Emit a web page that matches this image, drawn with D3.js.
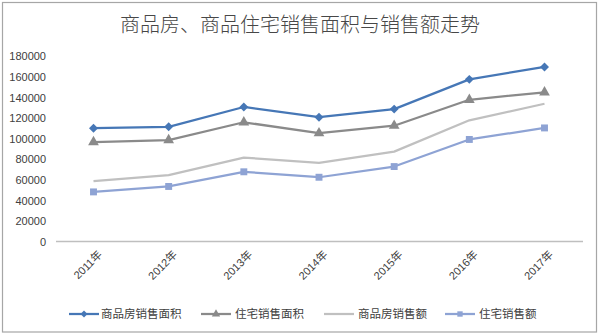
<!DOCTYPE html>
<html><head><meta charset="utf-8">
<script src="https://cdn.jsdelivr.net/npm/d3@7"></script>
<style>
html,body{margin:0;padding:0;background:#fff;}
text{font-family:"Noto Sans CJK SC","Liberation Sans",sans-serif;}
</style></head>
<body><svg id="c" width="600" height="335"></svg>
<script>
const years = ["2011年","2012年","2013年","2014年","2015年","2016年","2017年"];
const seriesNames = ["商品房销售面积","住宅销售面积","商品房销售额","住宅销售额"];
const areaCommercial = [109946,111304,130551,120649,128495,157349,169408];
const areaResidential = [96528,98468,115723,105188,112412,137540,144789];
const salesCommercial = [58589,64456,81428,76292,87281,117627,133701];
const salesResidential = [48198,53467,67695,62411,72770,99064,110240];
const yTicks = [0,20000,40000,60000,80000,100000,120000,140000,160000,180000];
const title = "商品房、商品住宅销售面积与销售额走势";

const seriesValues = [areaCommercial, areaResidential, salesCommercial, salesResidential];
const colors = ["#4677b6","#8a8a8a","#c0c0c0","#8ea3d4"];
const squareDiamond = {draw(ctx,size){const r=Math.sqrt(size/2);ctx.moveTo(0,-r);ctx.lineTo(r,0);ctx.lineTo(0,r);ctx.lineTo(-r,0);ctx.closePath();}};
const markers = [squareDiamond, d3.symbolTriangle, null, d3.symbolSquare];
const markerSizes = [40, 50, 0, 48];

const svg = d3.select("#c");
svg.append("rect").attr("x",2.5).attr("y",2.5).attr("width",594).attr("height",329.5)
  .attr("fill","#fff").attr("stroke","#a6a6a6").attr("stroke-width",1.2);

svg.append("text").attr("x",300).attr("y",32).attr("text-anchor","middle")
  .attr("font-size",20).attr("font-weight",300).attr("fill","#474747").text(title);

const x = d3.scalePoint().domain(years).range([93.5,544.5]);
const y = d3.scaleLinear().domain([0,180000]).range([241.6,56]);

const yAxis = d3.axisLeft(y).tickValues(yTicks).tickSize(0).tickPadding(0).tickFormat(d3.format("d"));
const ya = svg.append("g").attr("transform","translate(46,0)").call(yAxis);
ya.select(".domain").remove();
ya.selectAll("text").attr("font-size",11).attr("fill","#404040").attr("dy","0.35em")
  .style("font-family","'Liberation Sans',sans-serif");

const xAxis = d3.axisBottom(x).tickSize(0).tickPadding(0);
const xa = svg.append("g").attr("transform","translate(0,241.6)").call(xAxis);
xa.select(".domain").remove();
svg.append("line").attr("x1",56).attr("x2",583).attr("y1",241.6).attr("y2",241.6)
  .attr("stroke","#bfbfbf").attr("stroke-width",1.5);
xa.selectAll("text").attr("font-size",11).attr("fill","#404040")
  .attr("text-anchor","end").attr("dy","0.35em")
  .attr("transform","translate(6,11) rotate(-45)")
  .style("font-family","'Liberation Sans','Noto Sans CJK SC',sans-serif");

const line = d3.line().x((d,i)=>x(years[i])).y(d=>y(d));
seriesValues.forEach((vals,k)=>{
  const g = svg.append("g");
  g.append("path").datum(vals).attr("d",line).attr("fill","none")
    .attr("stroke",colors[k]).attr("stroke-width",2.25).attr("stroke-linejoin","round");
  if(markers[k]){
    g.selectAll("path.m").data(vals).enter().append("path").attr("class","m")
      .attr("d",d3.symbol().type(markers[k]).size(markerSizes[k]))
      .attr("transform",(d,i)=>`translate(${x(years[i])},${y(d)})`)
      .attr("fill",colors[k]);
  }
});

const legX = [69,201,324,445];
const ly = 314;
seriesNames.forEach((n,k)=>{
  const g = svg.append("g").attr("transform",`translate(${legX[k]},${ly})`);
  g.append("line").attr("x1",0).attr("x2",30).attr("y1",0).attr("y2",0)
    .attr("stroke",colors[k]).attr("stroke-width",2.25);
  if(markers[k]){
    g.append("path").attr("d",d3.symbol().type(markers[k]).size(markerSizes[k]*0.6)())
      .attr("transform","translate(15,0)").attr("fill",colors[k]);
  }
  g.append("text").attr("x",k===0?32:34).attr("y",0).attr("dy","0.35em")
    .attr("font-size",11.5).attr("fill","#404040").text(n);
});
</script></body></html>
